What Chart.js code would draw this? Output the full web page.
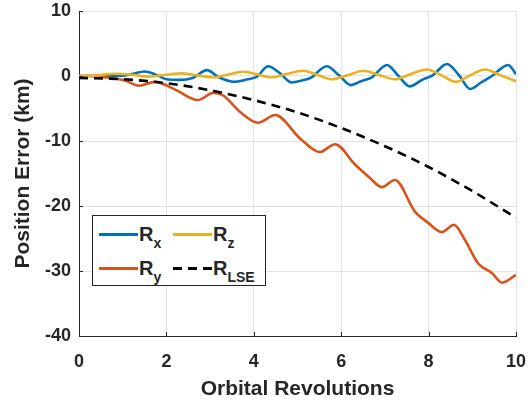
<!DOCTYPE html>
<html>
<head>
<meta charset="utf-8">
<script src="https://cdn.jsdelivr.net/npm/chart.js@4.4.1/dist/chart.umd.min.js"></script>
<style>
  body { margin: 0; background: #fff; }
  #wrap { position: relative; width: 532px; height: 404px; }
  #legend {
    position: absolute; left: 92px; top: 215px; width: 174px; height: 71px;
    border: 1px solid #262626; background: #fff; box-sizing: border-box;
    font-family: "Liberation Sans", Arial, sans-serif; font-weight: bold; color: #262626;
  }
  .swatch { position: absolute; width: 39px; height: 3px; }
  .lbl { position: absolute; font-size: 20px; line-height: 20px; white-space: nowrap; }
  .lbl sub { font-size: 14px; line-height: 0; vertical-align: -7px; }
</style>
</head>
<body>
<div id="wrap">
  <canvas id="chart" width="532" height="404"></canvas>
  <div id="legend"></div>
</div>
<script>
// Rx (blue)
const rxRev = [0, 0.5, 1.0, 1.2, 1.5, 1.8, 2.0, 2.3, 2.6, 2.93, 3.2, 3.55, 3.8, 4.07, 4.33, 4.6, 4.87, 5.1, 5.3, 5.67, 5.95, 6.22, 6.45, 6.7, 7.05, 7.3, 7.57, 7.85, 8.1, 8.42, 8.7, 8.95, 9.2, 9.45, 9.82, 10];
const rxErr = [0, 0, 0.05, 0.3, 0.7, 0.1, -0.5, -0.6, -0.3, 0.9, -0.2, -0.9, -0.6, -0.1, 1.5, 0.4, -1.0, -0.7, -0.3, 1.5, 0.1, -1.4, -0.8, -0.2, 1.7, 0.1, -1.6, -0.6, 0.15, 1.85, 0.1, -2.0, -1.0, 0, 1.7, 0.3];

// Ry (orange)
const ryRev = [0, 0.3, 0.6, 1.05, 1.37, 1.74, 2.2, 2.72, 3.07, 3.3, 3.68, 4.1, 4.49, 5.06, 5.51, 5.86, 6.3, 6.66, 6.93, 7.23, 7.69, 7.99, 8.3, 8.58, 8.83, 9.13, 9.45, 9.68, 10];
const ryErr = [0, 0, -0.2, -0.7, -1.5, -0.9, -2.1, -3.7, -2.6, -3.0, -5.5, -7.2, -6.0, -9.6, -11.7, -10.5, -13.5, -15.7, -17.1, -16.0, -20.9, -22.6, -24.0, -22.9, -25.2, -28.8, -30.3, -31.8, -30.6];

// Rz (yellow)
const rzRev = [0, 0.4, 0.8, 1.2, 1.6, 2.0, 2.35, 2.7, 3.07, 3.4, 3.75, 4.05, 4.4, 4.75, 5.13, 5.45, 5.78, 6.15, 6.5, 6.85, 7.23, 7.6, 7.96, 8.3, 8.62, 8.95, 9.29, 9.65, 10];
const rzErr = [0, 0.1, 0.35, 0.2, -0.1, 0.2, 0.4, 0.1, -0.2, 0.2, 0.65, 0.3, -0.2, 0.3, 0.8, 0.2, -0.5, 0.1, 0.8, 0.2, -0.5, 0.3, 1.0, 0.1, -0.9, 0.1, 1.0, 0.1, -0.8];

// R_LSE (black dashed)
const lseRev = [0, 1, 2, 3, 4, 5, 6, 7, 8, 9, 10];
const lseErr = [-0.3, -0.5, -1.1, -2.2, -3.7, -5.6, -8.0, -10.8, -14.0, -17.7, -21.8];

const xTicks = [0, 2, 4, 6, 8, 10];
const yTicks = [-40, -30, -20, -10, 0, 10];

const textColor = "#262626";
const fontFamily = '"Liberation Sans", Arial, sans-serif';

function pts(xs, ys) {
    return xs.map((x, i) => ({x: x, y: ys[i]}));
}

const series = [
    {name: "x", color: "#0072BD", dash: [], data: pts(rxRev, rxErr), order: 4},
    {name: "y", color: "#D95319", dash: [], data: pts(ryRev, ryErr), order: 3},
    {name: "z", color: "#EDB120", dash: [], data: pts(rzRev, rzErr), order: 2},
    {name: "LSE", color: "#000000", dash: [9, 6], data: pts(lseRev, lseErr), order: 1},
];

// small MATLAB style ticks pointing into the axes
const insideTicks = {
    id: "insideTicks",
    afterDraw(chart) {
        const ctx = chart.ctx;
        const xs = chart.scales.x, ys = chart.scales.y;
        const area = chart.chartArea;
        ctx.save();
        ctx.strokeStyle = textColor;
        ctx.lineWidth = 1;
        ctx.beginPath();
        xTicks.forEach(v => {
            const px = Math.round(xs.getPixelForValue(v)) + 0.5;
            ctx.moveTo(px, area.bottom);
            ctx.lineTo(px, area.bottom - 4);
        });
        yTicks.forEach(v => {
            const py = Math.round(ys.getPixelForValue(v)) + 0.5;
            ctx.moveTo(area.left, py);
            ctx.lineTo(area.left + 4, py);
        });
        ctx.stroke();
        ctx.restore();
    }
};

let chart = new Chart("chart", {
    type: "line",
    data: {
        datasets: series.map(s => ({
            label: "R" + s.name,
            data: s.data,
            borderColor: s.color,
            borderWidth: 2.6,
            borderDash: s.dash,
            pointRadius: 0,
            fill: false,
            cubicInterpolationMode: "monotone",
            order: s.order
        }))
    },
    options: {
        responsive: false,
        animation: false,
        layout: {padding: {top: 11, right: 16, left: 0, bottom: 0}},
        plugins: {legend: {display: false}, tooltip: {enabled: false}},
        scales: {
            x: {
                type: "linear",
                min: 0, max: 10,
                afterBuildTicks: (scale) => { scale.ticks = xTicks.map(v => ({value: v})); },
                afterFit: (scale) => {
                    scale.height = 68;
                    scale.paddingLeft = 0;
                    scale.paddingRight = 0;
                },
                grid: {color: "#e3e3e3", drawTicks: false},
                border: {color: textColor, width: 1},
                ticks: {color: textColor, padding: 15, font: {family: fontFamily, size: 18, weight: "bold"}},
                title: {display: true, text: "Orbital Revolutions", color: textColor, padding: {top: 0, bottom: 2},
                        font: {family: fontFamily, size: 21, weight: "bold"}}
            },
            y: {
                type: "linear",
                min: -40, max: 10,
                afterBuildTicks: (scale) => { scale.ticks = yTicks.map(v => ({value: v})); },
                afterFit: (scale) => {
                    scale.width = 79;
                    scale.paddingTop = 0;
                    scale.paddingBottom = 0;
                },
                grid: {color: "#e3e3e3", drawTicks: false},
                border: {color: textColor, width: 1},
                ticks: {color: textColor, padding: 8, font: {family: fontFamily, size: 18, weight: "bold"}},
                title: {display: true, text: "Position Error (km)", color: textColor, padding: {top: 11, bottom: 0},
                        font: {family: fontFamily, size: 21, weight: "bold"}}
            }
        }
    },
    plugins: [insideTicks]
});

// legend in two columns, MATLAB style, with subscripts
const legend = document.getElementById("legend");
const slots = [
    {s: series[0], left: 6, top: 18},
    {s: series[2], left: 80, top: 18},
    {s: series[1], left: 6, top: 52},
    {s: series[3], left: 80, top: 52},
];
slots.forEach(p => {
    const sw = document.createElement("span");
    sw.className = "swatch";
    sw.style.left = p.left + "px";
    sw.style.top = (p.top - 1) + "px";
    if (p.s.dash.length) {
        sw.style.background = "repeating-linear-gradient(90deg," + p.s.color + " 0 9px, transparent 9px 15px)";
    } else {
        sw.style.background = p.s.color;
    }
    legend.appendChild(sw);

    const lbl = document.createElement("span");
    lbl.className = "lbl";
    lbl.style.left = (p.left + 40) + "px";
    lbl.style.top = (p.top - 10) + "px";
    lbl.innerHTML = "R<sub>" + p.s.name + "</sub>";
    legend.appendChild(lbl);
});
</script>
</body>
</html>
